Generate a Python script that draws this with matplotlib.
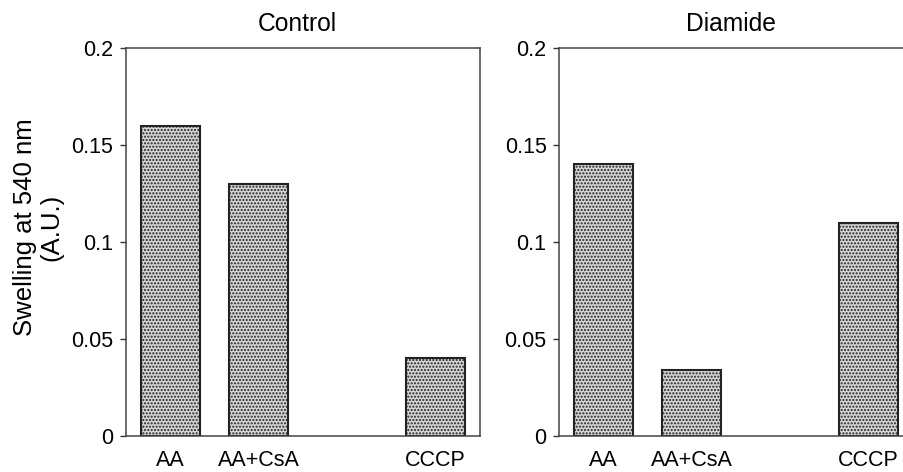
import matplotlib
matplotlib.use("Agg")
import matplotlib.pyplot as plt

plt.rcParams['font.family'] = ['Liberation Sans', 'DejaVu Sans']
plt.rcParams['hatch.color'] = '#2a2a2a'
plt.rcParams['hatch.linewidth'] = 1.0

categories = ["AA", "AA+CsA", "CCCP"]
positions = [0, 1, 3]
control = [0.16, 0.13, 0.04]
diamide = [0.14, 0.034, 0.11]
yticks = [0, 0.05, 0.1, 0.15, 0.2]
yticklabels = ["0", "0.05", "0.1", "0.15", "0.2"]

W, H = 904, 472
fig = plt.figure(figsize=(W / 100, H / 100), dpi=100)

def px(x0, y0, x1, y1):
    return [x0 / W, 1 - y1 / H, (x1 - x0) / W, (y1 - y0) / H]

ax1 = fig.add_axes(px(126, 48, 480, 436))
ax2 = fig.add_axes(px(559, 48, 913, 436))

for ax, vals in ((ax1, control), (ax2, diamide)):
    ax.bar(positions, vals, width=0.67, color='#d4d4d4', edgecolor='#222222',
           linewidth=1.5, hatch='.....')
    ax.set_xlim(-0.5, 3.5)
    ax.set_ylim(0, 0.2)
    ax.set_yticks(yticks)
    ax.set_yticklabels(yticklabels)
    ax.set_xticks(positions)
    ax.set_xticklabels(categories)
    ax.tick_params(axis='y', direction='out', length=4, width=1, pad=5,
                   labelsize=15.5, color='#333333')
    ax.tick_params(axis='x', length=0, pad=10, labelsize=15.5)
    for s in ax.spines.values():
        s.set_color('#444444')
        s.set_linewidth(1.1)

fig.text(297 / W, 1 - 31 / H, "Control", ha='center', va='baseline', fontsize=17.7)
fig.text(731 / W, 1 - 31 / H, "Diamide", ha='center', va='baseline', fontsize=17.7)
fig.text(38 / W, 1 - 227 / H, "Swelling at 540 nm\n(A.U.)", rotation=90,
         ha='center', va='center', fontsize=18.5, linespacing=1.1)

fig.savefig("out.png", dpi=100)
